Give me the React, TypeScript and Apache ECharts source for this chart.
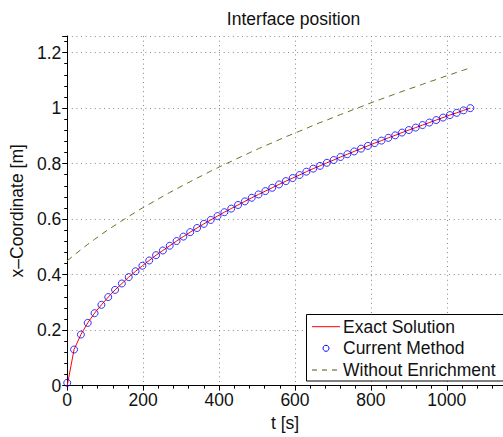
import React, { useEffect, useRef } from "react";
import * as echarts from "echarts";

// time samples [s]
const timeValues = [
  0, 18, 36, 54, 72, 90, 108, 126, 144, 162, 180, 198, 216, 234, 252, 270, 288, 306, 324, 342,
  360, 378, 396, 414, 432, 450, 468, 486, 504, 522, 540, 558, 576, 594, 612, 630, 648, 666, 684, 702,
  720, 738, 756, 774, 792, 810, 828, 846, 864, 882, 900, 918, 936, 954, 972, 990, 1008, 1026, 1044, 1062,
];

// Exact Solution [m]
const exactValues = [
  0.0, 0.130, 0.184, 0.226, 0.261, 0.291, 0.319, 0.345, 0.368, 0.391, 0.412, 0.432, 0.451, 0.470, 0.487,
  0.504, 0.521, 0.537, 0.553, 0.568, 0.583, 0.597, 0.611, 0.625, 0.638, 0.651, 0.664, 0.677, 0.689, 0.701,
  0.713, 0.725, 0.737, 0.748, 0.759, 0.771, 0.782, 0.792, 0.803, 0.813, 0.824, 0.834, 0.844, 0.854, 0.864,
  0.874, 0.883, 0.893, 0.902, 0.912, 0.921, 0.930, 0.939, 0.948, 0.957, 0.966, 0.975, 0.983, 0.992, 1.0,
];

// Current Method [m]
const methodValues = [
  0.01, 0.130, 0.184, 0.226, 0.261, 0.291, 0.319, 0.345, 0.368, 0.391, 0.412, 0.432, 0.451, 0.470, 0.487,
  0.504, 0.521, 0.537, 0.553, 0.568, 0.583, 0.597, 0.611, 0.625, 0.638, 0.651, 0.664, 0.677, 0.689, 0.701,
  0.713, 0.725, 0.737, 0.748, 0.759, 0.771, 0.782, 0.792, 0.803, 0.813, 0.824, 0.834, 0.844, 0.854, 0.864,
  0.874, 0.883, 0.893, 0.902, 0.912, 0.921, 0.930, 0.939, 0.948, 0.957, 0.966, 0.975, 0.983, 0.992, 1.0,
];

// Without Enrichment [m]
const noEnrichValues = [
  0.450, 0.470, 0.490, 0.509, 0.527, 0.545, 0.562, 0.578, 0.594, 0.610, 0.625, 0.640, 0.654, 0.668, 0.682,
  0.696, 0.709, 0.722, 0.735, 0.748, 0.760, 0.773, 0.785, 0.797, 0.808, 0.820, 0.831, 0.843, 0.854, 0.865,
  0.875, 0.886, 0.897, 0.907, 0.917, 0.927, 0.938, 0.948, 0.957, 0.967, 0.977, 0.986, 0.996, 1.005, 1.015,
  1.024, 1.033, 1.042, 1.051, 1.060, 1.069, 1.077, 1.086, 1.095, 1.103, 1.112, 1.120, 1.129, 1.137, 1.145,
];

const seriesNames = ["Exact Solution", "Current Method", "Without Enrichment"];
const xTicks = { min: 0, max: 1148, interval: 200 };
const yTicks = { min: 0, max: 1.26, interval: 0.2 };

const FONT = "'Liberation Sans', Arial, Helvetica, sans-serif";
const OLIVE = "#66751c";

export default function App() {
  const ref = useRef<HTMLDivElement>(null);
  useEffect(() => {
    if (!ref.current) return;
    const chart = echarts.init(ref.current, undefined, { renderer: "svg" });
    const pair = (vals: number[]) => timeValues.map((t, i) => [t, vals[i]]);
    const gridLine = { show: true, lineStyle: { color: "#888", width: 1, type: [1, 3.6] as any } };
    const lx = 312, tx = 343;
    const rows = [326.7, 348.3, 370];
    chart.setOption({
      animation: false,
      backgroundColor: "#fff",
      textStyle: { fontFamily: FONT },
      title: {
        text: "Interface position",
        left: 288.5,
        top: 5,
        textAlign: "center",
        textStyle: { fontFamily: FONT, fontSize: 17.5, fontWeight: "normal", color: "#111" },
      },
      grid: { left: 67, top: 36, right: 0, bottom: 51.4, containLabel: false },
      xAxis: {
        type: "value",
        min: xTicks.min,
        max: xTicks.max,
        interval: xTicks.interval,
        name: "t [s]",
        nameLocation: "middle",
        nameGap: 25,
        nameTextStyle: { fontFamily: FONT, fontSize: 17.5, color: "#111" },
        axisLine: { show: true, lineStyle: { color: "#000", width: 1 } },
        axisTick: { show: true, length: 5, lineStyle: { color: "#000" } },
        minorTick: { show: true, splitNumber: 5, length: 3, lineStyle: { color: "#000" } },
        axisLabel: {
          fontFamily: FONT,
          fontSize: 17.5,
          color: "#111",
          margin: 5,
          showMaxLabel: false,
          formatter: (v: number) => String(v),
        },
        splitLine: gridLine,
      },
      yAxis: {
        type: "value",
        min: yTicks.min,
        max: yTicks.max,
        interval: yTicks.interval,
        name: "x\u2013Coordinate [m]",
        nameLocation: "middle",
        nameGap: 24,
        nameTextStyle: { fontFamily: FONT, fontSize: 17.5, color: "#111" },
        axisLine: { show: true, lineStyle: { color: "#000", width: 1 } },
        axisTick: { show: true, length: 5, lineStyle: { color: "#000" } },
        minorTick: { show: true, splitNumber: 5, length: 3, lineStyle: { color: "#000" } },
        axisLabel: { fontFamily: FONT, fontSize: 17.5, color: "#111", margin: 6, showMaxLabel: false },
        splitLine: gridLine,
      },
      series: [
        {
          name: seriesNames[0],
          type: "line",
          data: pair(exactValues),
          symbol: "none",
          lineStyle: { color: "#ff0000", width: 1 },
          z: 2,
        },
        {
          name: seriesNames[1],
          type: "scatter",
          data: pair(methodValues),
          symbol: "circle",
          symbolSize: 7,
          itemStyle: { color: "rgba(0,0,0,0)", borderColor: "#0000ff", borderWidth: 1 },
          z: 3,
        },
        {
          name: seriesNames[2],
          type: "line",
          data: pair(noEnrichValues),
          symbol: "none",
          lineStyle: { color: OLIVE, width: 1, type: [6, 5] as any },
          z: 2,
        },
      ],
      graphic: [
        {
          type: "rect",
          z: 100,
          shape: { x: 306.5, y: 314.5, width: 220, height: 66.5 },
          style: { fill: "#fff", stroke: "#000", lineWidth: 1 },
        },
        {
          type: "line",
          z: 101,
          shape: { x1: lx, y1: rows[0], x2: lx + 28, y2: rows[0] },
          style: { stroke: "#ff0000", lineWidth: 1 },
        },
        {
          type: "circle",
          z: 101,
          shape: { cx: lx + 14, cy: rows[1], r: 3 },
          style: { fill: "none", stroke: "#0000ff", lineWidth: 1 },
        },
        {
          type: "line",
          z: 101,
          shape: { x1: lx, y1: rows[2], x2: lx + 28, y2: rows[2] },
          style: { stroke: "#4b5614", lineWidth: 1, lineDash: [5, 5] },
        },
        ...seriesNames.map((n, i) => ({
          type: "text",
          z: 101,
          x: tx,
          y: rows[i],
          style: {
            text: n,
            fontFamily: FONT,
            fontSize: 17.5,
            fill: "#111",
            verticalAlign: "middle",
            align: "left",
          },
        })),
      ],
    });
    return () => chart.dispose();
  }, []);
  return (
    <div
      ref={ref}
      style={{ position: "fixed", left: 0, top: 0, width: 503, height: 437, background: "#fff" }}
    />
  );
}
